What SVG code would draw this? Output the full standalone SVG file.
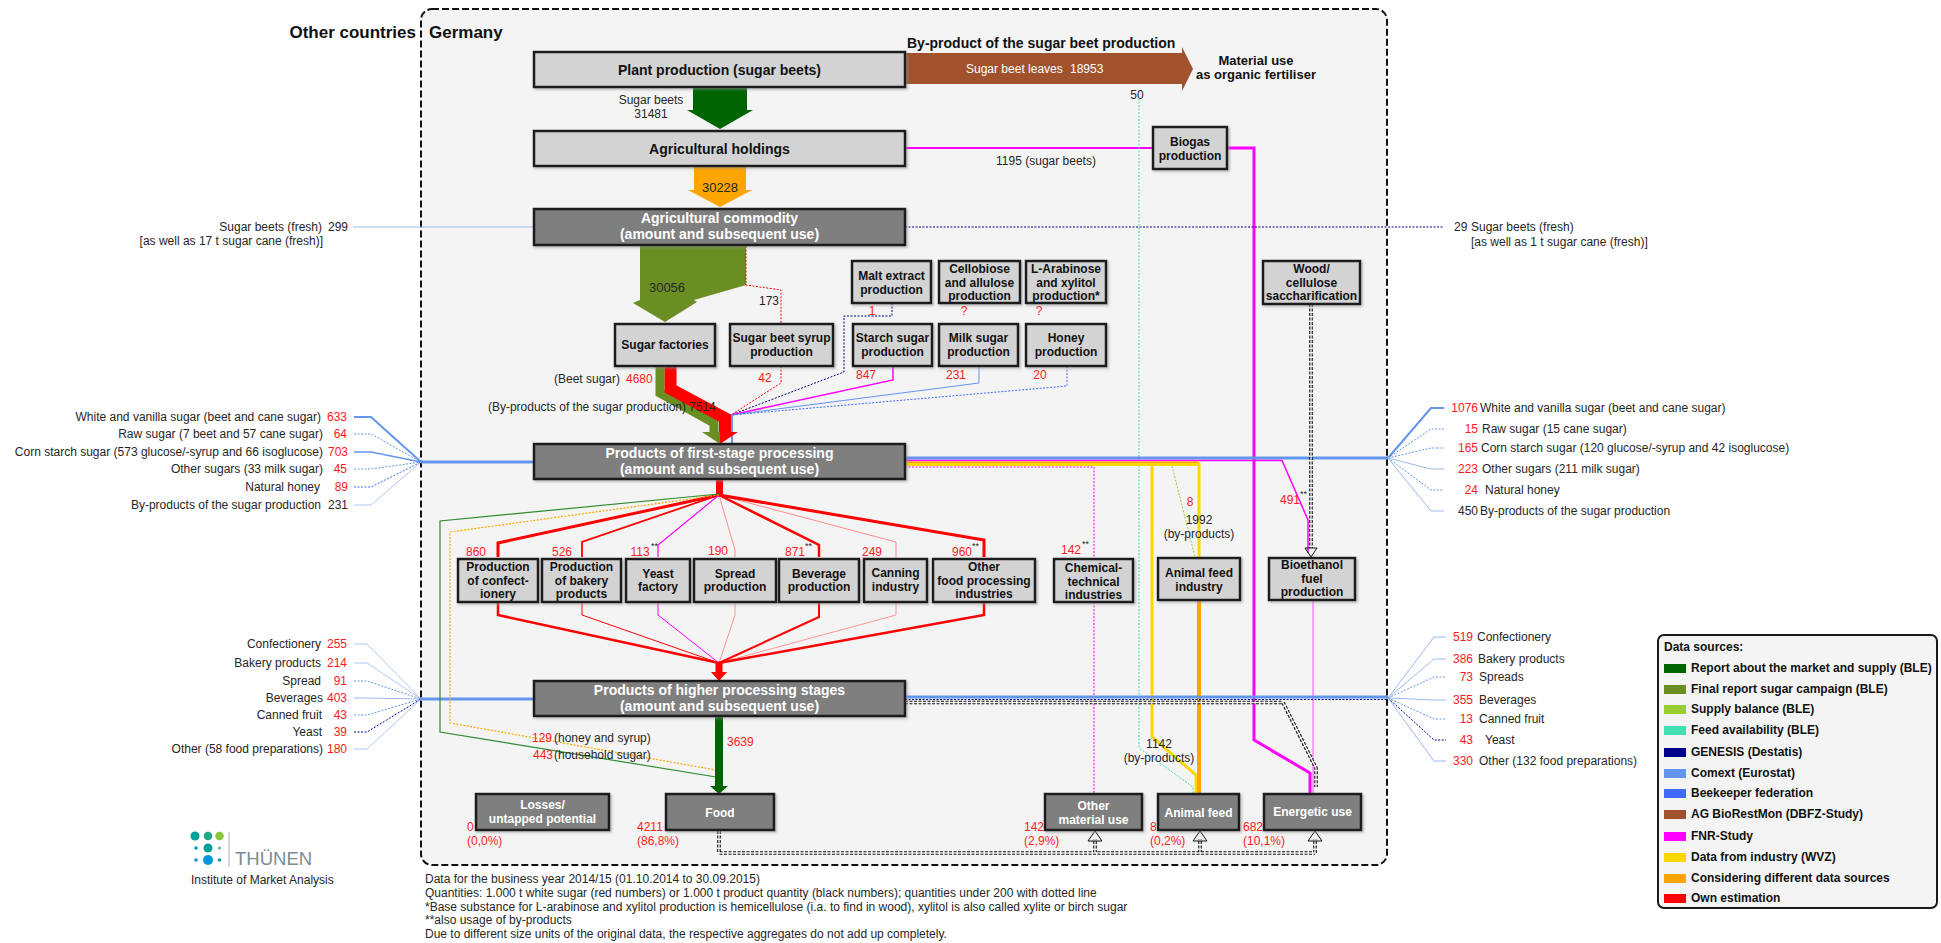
<svg xmlns="http://www.w3.org/2000/svg" width="1941" height="943" viewBox="0 0 1941 943">
<style>
text{font-family:"Liberation Sans",Arial,Helvetica,sans-serif;font-size:12px;fill:#262626}
.b{font-weight:bold;fill:#111}
.h{font-size:14px}
.hd{font-size:17px}
.r{fill:#ff1a1a}
.w{fill:#fff}
.m{text-anchor:middle}
.e{text-anchor:end}
.sup{font-size:9px}
.nl{fill:#d3d3d3;stroke:#1a1a1a;stroke-width:2.5;filter:url(#sh)}
.nd{fill:#7f7f7f;stroke:#1a1a1a;stroke-width:2.5;filter:url(#sh)}
path,polyline,line{fill:none}
.dt{stroke-dasharray:2,1.5}
.cb{stroke:#6495ed}
.cbl{stroke:#9db8f2}
.nv{stroke:#00008b}
.rb{stroke:#4169ff}
.rd{stroke:#ff0000}
.lr{stroke:#ff8080}
.mg{stroke:#ff00ff}
.gd{stroke:#ffd700}
.or{stroke:#ffa500}
.lg{stroke:#9acd32}
.cy{stroke:#40e0b0}
.dbo{stroke:#111;stroke-width:3.6;stroke-dasharray:3,1.5}
.dbi{stroke:#f4f4f4;stroke-width:1.4}
</style>
<defs>
<filter id="sh" x="-10%" y="-10%" width="125%" height="130%"><feDropShadow dx="1.5" dy="1.5" stdDeviation="0.8" flood-color="#888" flood-opacity="0.6"/></filter>
<marker id="aR" viewBox="0 0 10 10" refX="10" refY="5" markerWidth="7" markerHeight="11" markerUnits="userSpaceOnUse" orient="auto" preserveAspectRatio="none"><path d="M0,0L10,5L0,10z" fill="#ff0000"/></marker>
<marker id="aM" viewBox="0 0 10 10" refX="10" refY="5" markerWidth="7" markerHeight="10" markerUnits="userSpaceOnUse" orient="auto" preserveAspectRatio="none"><path d="M0,0L10,5L0,10z" fill="#ff00ff"/></marker>
<marker id="aB" viewBox="0 0 10 10" refX="10" refY="5" markerWidth="6" markerHeight="10" markerUnits="userSpaceOnUse" orient="auto" preserveAspectRatio="none"><path d="M0,0L10,5L0,10z" fill="#6495ed"/></marker>
<marker id="aBs" viewBox="0 0 10 10" refX="10" refY="5" markerWidth="4" markerHeight="9" markerUnits="userSpaceOnUse" orient="auto" preserveAspectRatio="none"><path d="M0,0L10,5L0,10z" fill="#6495ed"/></marker>
<marker id="aN" viewBox="0 0 10 10" refX="10" refY="5" markerWidth="5" markerHeight="9" markerUnits="userSpaceOnUse" orient="auto" preserveAspectRatio="none"><path d="M0,0L10,5L0,10z" fill="#00008b"/></marker>
<marker id="aG" viewBox="0 0 10 10" refX="10" refY="5" markerWidth="7" markerHeight="11" markerUnits="userSpaceOnUse" orient="auto" preserveAspectRatio="none"><path d="M0,0L10,5L0,10z" fill="#ffd700"/></marker>
<marker id="aO" viewBox="0 0 10 10" refX="10" refY="5" markerWidth="7" markerHeight="12" markerUnits="userSpaceOnUse" orient="auto" preserveAspectRatio="none"><path d="M0,0L10,5L0,10z" fill="#ffa500"/></marker>
<marker id="aL" viewBox="0 0 10 10" refX="10" refY="5" markerWidth="7" markerHeight="10" markerUnits="userSpaceOnUse" orient="auto" preserveAspectRatio="none"><path d="M0,0L10,5L0,10z" fill="#9acd32"/></marker>
<marker id="aC" viewBox="0 0 10 10" refX="10" refY="5" markerWidth="7" markerHeight="10" markerUnits="userSpaceOnUse" orient="auto" preserveAspectRatio="none"><path d="M0,0L10,5L0,10z" fill="#40e0b0"/></marker>
</defs>

<rect width="1941" height="943" fill="#fff"/>

<g id="frame">
<rect x="421" y="9" width="966" height="856" rx="11" fill="#f4f4f4" stroke="#111" stroke-width="2" stroke-dasharray="7,3"/>
<text x="416" y="38" class="b hd e">Other countries</text>
<text x="429" y="38" class="b hd">Germany</text>
</g>

<g id="connectors">
<polygon points="693,87 747,87 747,110 753,110 720,129 687,110 693,110" fill="#006400"/>
<polygon points="694,166 746,166 746,190 752,190 720,207 688,190 694,190" fill="#ffa500"/>
<polygon points="640,245 746,245 746,285 694,300 697,302 665,322 633,303 640,300" fill="#6b8e23"/>
<polygon points="905,53 1182,53 1182,47 1193,69 1182,91 1182,84 905,84" fill="#a0522d"/>
<path class="rd dt" stroke-width="1" d="M746,246V285L781,290V323" marker-end="url(#aR)"/>
<path class="rd dt" stroke-width="1" d="M781,366V383L731,415"/>
<path class="nv dt" stroke-width="1" d="M892,303V316H844V372L731,415"/>
<path class="mg" stroke-width="1.5" d="M893,366V380L731,415"/>
<path class="cb" stroke-width="1" d="M979,366V383L731,415"/>
<path class="rb dt" stroke-width="1" d="M1067,366V386L731,415"/>
<path class="cb" stroke-width="2" d="M732,415V443" marker-end="url(#aB)"/>
<polyline points="660,366 660,393 714,423 714,433" stroke="#6b8e23" stroke-width="9" stroke-linejoin="miter"/>
<polyline points="670.5,366 670.5,389 725,418 725,433" stroke="#ff0000" stroke-width="12" stroke-linejoin="miter"/>
<polygon points="702,432 720,432 720,444" fill="#6b8e23"/>
<polygon points="720,432 738,432 720,444" fill="#ff0000"/>
<path class="mg" stroke-width="2" d="M905,148H1153" marker-end="url(#aM)"/>
<path class="mg" stroke-width="3" d="M1227,148H1254V740L1310,773V794" marker-end="url(#aM)"/>
<path class="cy dt" stroke-width="1" d="M1139,98V748L1193,787V794" marker-end="url(#aC)"/>
<path class="cbl" stroke-width="1" d="M353,227H534" marker-end="url(#aN)"/>
<path class="nv dt" stroke-width="1" d="M905,227H1444" marker-end="url(#aN)"/>
<path class="cb" stroke-width="2" d="M354,417H371L421,462"/>
<path class="cb dt" stroke-width="1" d="M354,434H371L421,462"/>
<path class="cb" stroke-width="1.4" d="M354,452H371L421,462"/>
<path class="cb dt" stroke-width="1" d="M354,469H371L421,462"/>
<path class="rb dt" stroke-width="1" d="M354,487H371L421,462"/>
<path class="cbl" stroke-width="0.8" d="M354,505H371L421,462"/>
<path class="cb" stroke-width="3" d="M421,462H534" marker-end="url(#aB)"/>
<path class="cbl" stroke-width="0.8" d="M354,644H367L421,699"/>
<path class="cbl" stroke-width="0.8" d="M354,663H367L421,699"/>
<path class="cb dt" stroke-width="1" d="M354,681H367L421,699"/>
<path class="cbl" stroke-width="1" d="M354,698H367L421,699"/>
<path class="cb dt" stroke-width="1" d="M354,715H367L421,699"/>
<path class="nv dt" stroke-width="1" d="M354,732H367L421,699"/>
<path class="cbl" stroke-width="0.8" d="M354,749H367L421,699"/>
<path class="cb" stroke-width="3" d="M421,699H534" marker-end="url(#aB)"/>
<path class="cb" stroke-width="3" d="M905,458H1388"/>
<path class="cb" stroke-width="2" d="M1388,458L1431,408H1444" marker-end="url(#aBs)"/>
<path class="cb dt" stroke-width="1" d="M1388,458L1431,429H1444" marker-end="url(#aBs)"/>
<path class="cb dt" stroke-width="1" d="M1388,458L1431,448H1444" marker-end="url(#aBs)"/>
<path class="cbl" stroke-width="1" d="M1388,458L1431,469H1444" marker-end="url(#aBs)"/>
<path class="cb dt" stroke-width="1" d="M1388,458L1431,490H1444" marker-end="url(#aBs)"/>
<path class="cbl" stroke-width="1" d="M1388,458L1431,511H1444" marker-end="url(#aBs)"/>
<path class="mg" stroke-width="1.5" d="M905,460.5H1282L1308,520V553" marker-end="url(#aM)"/>
<path class="or" stroke-width="2" d="M905,462.5H1199"/>
<path class="gd" stroke-width="3" d="M905,464.5H1199V557" marker-end="url(#aG)"/>
<path class="gd" stroke-width="3" d="M1152,465V737L1196,775V794" marker-end="url(#aG)"/>
<path class="lg dt" stroke-width="1" d="M1172,466L1195,557" marker-end="url(#aL)"/>
<path class="mg dt" stroke-width="1" d="M905,467H1094V558" marker-end="url(#aM)"/>
<path class="mg dt" stroke-width="1" d="M1094,602V794" marker-end="url(#aM)"/>
<path class="or" stroke-width="4" d="M1199,600V794" marker-end="url(#aO)"/>
<path stroke="#ff66ff" stroke-width="1.2" d="M1313,600V794" marker-end="url(#aM)"/>
<path class="dbo" d="M1311,304V548"/>
<path class="dbi" d="M1311,304V548"/>
<path d="M1305,548L1311,557L1317,548Z" fill="#fff" stroke="#111" stroke-width="1"/>
<rect x="716" y="479" width="7" height="16" fill="#ff0000"/>
<path class="rd" stroke-width="3" d="M719,495L498,543V557" marker-end="url(#aR)"/>
<path class="rd" stroke-width="1.8" d="M719,495L582,542V557" marker-end="url(#aR)"/>
<path class="mg" stroke-width="1.2" d="M719,495L658,545V557" marker-end="url(#aM)"/>
<path class="lr" stroke-width="0.9" d="M719,495L735,550V557" marker-end="url(#aR)"/>
<path class="rd" stroke-width="2.5" d="M719,495L819,545V557" marker-end="url(#aR)"/>
<path class="lr" stroke-width="0.9" d="M719,495L896,542V557" marker-end="url(#aR)"/>
<path class="rd" stroke-width="3" d="M719,495L984,540V557" marker-end="url(#aR)"/>
<path stroke="#2e8b2e" stroke-width="1.2" d="M719,494L440,521V732L716,777"/>
<path class="or dt" stroke-width="1.2" d="M719,495L450,532V723L716,770"/>
<path class="rd" stroke-width="2.5" d="M498,602V615L719,663"/>
<path class="rd" stroke-width="1" d="M582,602V615L719,663"/>
<path class="mg" stroke-width="1" d="M658,602V615L719,663"/>
<path class="lr" stroke-width="0.8" d="M735,602V615L719,663"/>
<path class="rd" stroke-width="2" d="M819,602V617L719,663"/>
<path class="lr" stroke-width="0.8" d="M896,602V615L719,663"/>
<path class="rd" stroke-width="2.5" d="M984,602V615L719,663"/>
<rect x="715.5" y="662" width="7" height="11" fill="#ff0000"/>
<polygon points="711,672 727,672 719,681" fill="#ff0000"/>
<path class="cb" stroke-width="3" d="M905,697H1388"/>
<path class="nv dt" stroke-width="1" d="M905,699.5H1388"/>
<path class="cbl" stroke-width="1" d="M1388,698L1434,637H1446" marker-end="url(#aBs)"/>
<path class="cbl" stroke-width="1" d="M1388,698L1434,659H1446" marker-end="url(#aBs)"/>
<path class="cb dt" stroke-width="1" d="M1388,698L1434,677H1446" marker-end="url(#aBs)"/>
<path class="cbl" stroke-width="1.2" d="M1388,698L1434,700H1446" marker-end="url(#aBs)"/>
<path class="cb dt" stroke-width="1" d="M1388,698L1434,719H1446" marker-end="url(#aBs)"/>
<path class="nv dt" stroke-width="1" d="M1388,698L1434,740H1446" marker-end="url(#aN)"/>
<path class="cbl" stroke-width="1" d="M1388,698L1434,761H1446" marker-end="url(#aBs)"/>
<path class="dbo" d="M905,702.5H1283L1316,768V787"/>
<path class="dbi" d="M905,702.5H1283L1316,768V787"/>
<rect x="715" y="716" width="8" height="71" fill="#006400"/>
<polygon points="710,786 728,786 719,794" fill="#006400"/>
<path class="dbo" d="M719,831V853H1315M1095,853V839M1200,853V839M1315,853V839"/>
<path class="dbi" d="M719,831V853H1315M1095,853V839M1200,853V839M1315,853V839"/>
<path d="M1088,841L1095,831L1102,841Z M1193,841L1200,831L1207,841Z M1308,841L1315,831L1322,841Z" fill="#fff" stroke="#111" stroke-width="1"/>
</g>

<g id="labels">
<text x="651" y="104" class="m">Sugar beets</text>
<text x="651" y="118" class="m">31481</text>
<text x="720" y="192" class="m" style="font-size:13px">30228</text>
<text x="667" y="292" class="m" style="font-size:13px">30056</text>
<text x="769" y="305" class="m">173</text>
<text x="966" y="73" class="w">Sugar beet leaves</text>
<text x="1070" y="73" class="w">18953</text>
<text x="907" y="48" class="b h">By-product of the sugar beet production</text>
<text x="1256" y="65" class="b m" style="font-size:13px">Material use</text>
<text x="1256" y="79" class="b m" style="font-size:13px">as organic fertiliser</text>
<text x="1137" y="99" class="m">50</text>
<text x="1046" y="165" class="m">1195 (sugar beets)</text>
<text x="322" y="231" class="e">Sugar beets (fresh)</text><text x="348" y="231" class="e">299</text>
<text x="323" y="245" class="e">[as well as 17 t sugar cane (fresh)]</text>
<text x="1454" y="231">29</text><text x="1471" y="231">Sugar beets (fresh)</text>
<text x="1471" y="246">[as well as 1 t sugar cane (fresh)]</text>
<text x="872" y="315" class="r m">1</text>
<text x="964" y="315" class="r m">?</text>
<text x="1039" y="315" class="r m">?</text>
<text x="620" y="383" class="e">(Beet sugar)</text>
<text x="626" y="383" class="r">4680</text>
<text x="686" y="411" class="e">(By-products of the sugar production)</text>
<text x="689" y="411">7514</text>
<text x="765" y="382" class="r m">42</text>
<text x="866" y="379" class="r m">847</text>
<text x="956" y="379" class="r m">231</text>
<text x="1040" y="379" class="r m">20</text>
<text x="321" y="421" class="e">White and vanilla sugar (beet and cane sugar)</text><text x="347" y="421" class="r e">633</text>
<text x="323" y="438" class="e">Raw sugar (7 beet and 57 cane sugar)</text><text x="347" y="438" class="r e">64</text>
<text x="323" y="456" class="e">Corn starch sugar (573 glucose/-syrup and 66 isoglucose)</text><text x="348" y="456" class="r e">703</text>
<text x="323" y="473" class="e">Other sugars (33 milk sugar)</text><text x="347" y="473" class="r e">45</text>
<text x="320" y="491" class="e">Natural honey</text><text x="348" y="491" class="r e">89</text>
<text x="321" y="509" class="e">By-products of the sugar production</text><text x="348" y="509" class="e">231</text>
<text x="1478" y="412" class="r e">1076</text><text x="1480" y="412">White and vanilla sugar (beet and cane sugar)</text>
<text x="1478" y="433" class="r e">15</text><text x="1482" y="433">Raw sugar (15 cane sugar)</text>
<text x="1478" y="452" class="r e">165</text><text x="1481" y="452">Corn starch sugar (120 glucose/-syrup and 42 isoglucose)</text>
<text x="1478" y="473" class="r e">223</text><text x="1482" y="473">Other sugars (211 milk sugar)</text>
<text x="1478" y="494" class="r e">24</text><text x="1485" y="494">Natural honey</text>
<text x="1478" y="515" class="e">450</text><text x="1480" y="515">By-products of the sugar production</text>
<text x="476" y="556" class="r m">860</text>
<text x="562" y="556" class="r m">526</text>
<text x="640" y="556" class="r m">113</text><text x="651" y="549" class="sup">**</text>
<text x="718" y="555" class="r m">190</text>
<text x="795" y="556" class="r m">871</text><text x="805" y="549" class="sup">**</text>
<text x="872" y="556" class="r m">249</text>
<text x="962" y="556" class="r m">960</text><text x="972" y="549" class="sup">**</text>
<text x="1071" y="554" class="r m">142</text><text x="1082" y="547" class="sup">**</text>
<text x="1190" y="506" class="r m">8</text>
<text x="1199" y="524" class="m">1992</text>
<text x="1199" y="538" class="m">(by-products)</text>
<text x="1290" y="504" class="r m">491</text><text x="1300" y="497" class="sup">**</text>
<text x="321" y="648" class="e">Confectionery</text><text x="347" y="648" class="r e">255</text>
<text x="321" y="667" class="e">Bakery products</text><text x="347" y="667" class="r e">214</text>
<text x="321" y="685" class="e">Spread</text><text x="347" y="685" class="r e">91</text>
<text x="323" y="702" class="e">Beverages</text><text x="347" y="702" class="r e">403</text>
<text x="322" y="719" class="e">Canned fruit</text><text x="347" y="719" class="r e">43</text>
<text x="322" y="736" class="e">Yeast</text><text x="347" y="736" class="r e">39</text>
<text x="323" y="753" class="e">Other (58 food preparations)</text><text x="347" y="753" class="r e">180</text>
<text x="1473" y="641" class="r e">519</text><text x="1477" y="641">Confectionery</text>
<text x="1473" y="663" class="r e">386</text><text x="1478" y="663">Bakery products</text>
<text x="1473" y="681" class="r e">73</text><text x="1479" y="681">Spreads</text>
<text x="1473" y="704" class="r e">355</text><text x="1479" y="704">Beverages</text>
<text x="1473" y="723" class="r e">13</text><text x="1479" y="723">Canned fruit</text>
<text x="1473" y="744" class="r e">43</text><text x="1485" y="744">Yeast</text>
<text x="1473" y="765" class="r e">330</text><text x="1479" y="765">Other (132 food preparations)</text>
<text x="532" y="742" class="r">129</text><text x="554" y="742">(honey and syrup)</text>
<text x="533" y="759" class="r">443</text><text x="554" y="759">(household sugar)</text>
<text x="727" y="746" class="r">3639</text>
<text x="1159" y="748" class="m">1142</text>
<text x="1159" y="762" class="m">(by-products)</text>
<text x="467" y="831" class="r">0</text><text x="467" y="845" class="r">(0,0%)</text>
<text x="637" y="831" class="r">4211</text><text x="637" y="845" class="r">(86,8%)</text>
<text x="1024" y="831" class="r">142</text><text x="1024" y="845" class="r">(2,9%)</text>
<text x="1150" y="831" class="r">8</text><text x="1150" y="845" class="r">(0,2%)</text>
<text x="1243" y="831" class="r">682</text><text x="1243" y="845" class="r">(10,1%)</text>
</g>

<g id="n-plant"><rect x="534" y="52" width="371" height="35" class="nl"/><text x="719.5" y="74.5" class="b h m">Plant production (sugar beets)</text></g>
<g id="n-holdings"><rect x="534" y="131" width="371" height="35" class="nl"/><text x="719.5" y="153.5" class="b h m">Agricultural holdings</text></g>
<g id="n-commodity"><rect x="534" y="209" width="371" height="36" class="nd"/><text x="719.5" y="223" class="b h m w">Agricultural commodity</text><text x="719.5" y="239" class="b h m w">(amount and subsequent use)</text></g>
<g id="n-biogas"><rect x="1153" y="127" width="74" height="42" class="nl"/><text x="1190" y="146" class="b m">Biogas</text><text x="1190" y="160" class="b m">production</text></g>
<g id="n-sugarfactories"><rect x="615" y="324" width="100" height="42" class="nl"/><text x="665" y="349" class="b m">Sugar factories</text></g>
<g id="n-syrup"><rect x="730" y="324" width="103" height="42" class="nl"/><text x="781.5" y="342" class="b m">Sugar beet syrup</text><text x="781.5" y="356" class="b m">production</text></g>
<g id="n-malt"><rect x="852" y="261" width="79" height="42" class="nl"/><text x="891.5" y="280" class="b m">Malt extract</text><text x="891.5" y="294" class="b m">production</text></g>
<g id="n-cellobiose"><rect x="939" y="261" width="81" height="42" class="nl"/><text x="979.5" y="273" class="b m">Cellobiose</text><text x="979.5" y="287" class="b m">and allulose</text><text x="979.5" y="300" class="b m">production</text></g>
<g id="n-arabinose"><rect x="1026" y="261" width="80" height="42" class="nl"/><text x="1066" y="273" class="b m">L-Arabinose</text><text x="1066" y="287" class="b m">and xylitol</text><text x="1066" y="300" class="b m">production*</text></g>
<g id="n-starch"><rect x="853" y="324" width="79" height="42" class="nl"/><text x="892.5" y="342" class="b m">Starch sugar</text><text x="892.5" y="356" class="b m">production</text></g>
<g id="n-milk"><rect x="939" y="324" width="79" height="42" class="nl"/><text x="978.5" y="342" class="b m">Milk sugar</text><text x="978.5" y="356" class="b m">production</text></g>
<g id="n-honey"><rect x="1026" y="324" width="80" height="42" class="nl"/><text x="1066" y="342" class="b m">Honey</text><text x="1066" y="356" class="b m">production</text></g>
<g id="n-wood"><rect x="1263" y="261" width="97" height="43" class="nl"/><text x="1311.5" y="273" class="b m">Wood/</text><text x="1311.5" y="287" class="b m">cellulose</text><text x="1311.5" y="300" class="b m">saccharification</text></g>
<g id="n-firststage"><rect x="534" y="444" width="371" height="35" class="nd"/><text x="719.5" y="458" class="b h m w">Products of first-stage processing</text><text x="719.5" y="474" class="b h m w">(amount and subsequent use)</text></g>
<g id="n-confectionery"><rect x="458" y="559" width="80" height="43" class="nl"/><text x="498" y="571" class="b m">Production</text><text x="498" y="585" class="b m">of confect-</text><text x="498" y="598" class="b m">ionery</text></g>
<g id="n-bakery"><rect x="542" y="559" width="79" height="43" class="nl"/><text x="581.5" y="571" class="b m">Production</text><text x="581.5" y="585" class="b m">of bakery</text><text x="581.5" y="598" class="b m">products</text></g>
<g id="n-yeast"><rect x="626" y="559" width="64" height="43" class="nl"/><text x="658" y="578" class="b m">Yeast</text><text x="658" y="591" class="b m">factory</text></g>
<g id="n-spread"><rect x="694" y="559" width="82" height="43" class="nl"/><text x="735" y="578" class="b m">Spread</text><text x="735" y="591" class="b m">production</text></g>
<g id="n-beverage"><rect x="779" y="559" width="80" height="43" class="nl"/><text x="819" y="578" class="b m">Beverage</text><text x="819" y="591" class="b m">production</text></g>
<g id="n-canning"><rect x="864" y="559" width="63" height="43" class="nl"/><text x="895.5" y="577" class="b m">Canning</text><text x="895.5" y="591" class="b m">industry</text></g>
<g id="n-otherfood"><rect x="933" y="559" width="102" height="43" class="nl"/><text x="984" y="571" class="b m">Other</text><text x="984" y="585" class="b m">food processing</text><text x="984" y="598" class="b m">industries</text></g>
<g id="n-chemical"><rect x="1054" y="559" width="79" height="43" class="nl"/><text x="1093.5" y="572" class="b m">Chemical-</text><text x="1093.5" y="586" class="b m">technical</text><text x="1093.5" y="599" class="b m">industries</text></g>
<g id="n-feedindustry"><rect x="1158" y="558" width="82" height="42" class="nl"/><text x="1199" y="577" class="b m">Animal feed</text><text x="1199" y="591" class="b m">industry</text></g>
<g id="n-bioethanol"><rect x="1269" y="558" width="86" height="42" class="nl"/><text x="1312" y="569" class="b m">Bioethanol</text><text x="1312" y="583" class="b m">fuel</text><text x="1312" y="596" class="b m">production</text></g>
<g id="n-higher"><rect x="534" y="681" width="371" height="35" class="nd"/><text x="719.5" y="695" class="b h m w">Products of higher processing stages</text><text x="719.5" y="711" class="b h m w">(amount and subsequent use)</text></g>
<g id="n-losses"><rect x="476" y="794" width="133" height="36" class="nd"/><text x="542.5" y="809" class="b m w">Losses/</text><text x="542.5" y="823" class="b m w">untapped potential</text></g>
<g id="n-food"><rect x="666" y="794" width="108" height="36" class="nd"/><text x="720" y="817" class="b m w">Food</text></g>
<g id="n-othermaterial"><rect x="1045" y="794" width="97" height="36" class="nd"/><text x="1093.5" y="810" class="b m w">Other</text><text x="1093.5" y="824" class="b m w">material use</text></g>
<g id="n-animalfeed"><rect x="1158" y="794" width="81" height="36" class="nd"/><text x="1198.5" y="817" class="b m w">Animal feed</text></g>
<g id="n-energetic"><rect x="1264" y="794" width="97" height="36" class="nd"/><text x="1312.5" y="816" class="b m w">Energetic use</text></g>

<g id="notes">
<text x="425" y="883">Data for the business year 2014/15 (01.10.2014 to 30.09.2015)</text>
<text x="425" y="897">Quantities: 1.000 t white sugar (red numbers) or 1.000 t product quantity (black numbers); quantities under 200 with dotted line</text>
<text x="425" y="911">*Base substance for L-arabinose and xylitol production is hemicellulose (i.a. to find in wood), xylitol is also called xylite or birch sugar</text>
<text x="425" y="924">**also usage of by-products</text>
<text x="425" y="938">Due to different size units of the original data, the respective aggregates do not add up completely.</text>
</g>

<g id="logo">
<circle cx="195" cy="836" r="4.5" fill="#00a19a"/>
<circle cx="208" cy="836" r="4.3" fill="#1fa882"/>
<circle cx="219.5" cy="836" r="4.3" fill="#8cc63f"/>
<circle cx="196" cy="848" r="1.8" fill="#0096d6"/>
<circle cx="208" cy="848" r="4.5" fill="#00a19a"/>
<circle cx="219.5" cy="848" r="1.5" fill="#4fb98a"/>
<circle cx="196" cy="860" r="1.8" fill="#0096d6"/>
<circle cx="208" cy="860" r="5" fill="#0096e0"/>
<circle cx="219.5" cy="860" r="1.8" fill="#00a19a"/>
<line x1="229" y1="832" x2="229" y2="867" stroke="#b0b0b0" stroke-width="1"/>
<text x="235" y="865" style="font-size:18.5px;fill:#7d8c92">THÜNEN</text>
<text x="191" y="884">Institute of Market Analysis</text>
</g>

<g id="legend">
<rect x="1658" y="635" width="279" height="273" rx="6" fill="#f4f4f4" stroke="#1a1a1a" stroke-width="2"/>
<text x="1664" y="651" class="b">Data sources:</text>
<rect x="1664" y="664" width="22" height="9" fill="#006400"/><text x="1691" y="672" class="b">Report about the market and supply (BLE)</text>
<rect x="1664" y="685" width="22" height="9" fill="#6b8e23"/><text x="1691" y="693" class="b">Final report sugar campaign (BLE)</text>
<rect x="1664" y="705" width="22" height="9" fill="#9acd32"/><text x="1691" y="713" class="b">Supply balance (BLE)</text>
<rect x="1664" y="726" width="22" height="9" fill="#40e0b0"/><text x="1691" y="734" class="b">Feed availability (BLE)</text>
<rect x="1664" y="748" width="22" height="9" fill="#00008b"/><text x="1691" y="756" class="b">GENESIS (Destatis)</text>
<rect x="1664" y="769" width="22" height="9" fill="#6495ed"/><text x="1691" y="777" class="b">Comext (Eurostat)</text>
<rect x="1664" y="789" width="22" height="9" fill="#4169ff"/><text x="1691" y="797" class="b">Beekeeper federation</text>
<rect x="1664" y="810" width="22" height="9" fill="#a0522d"/><text x="1691" y="818" class="b">AG BioRestMon (DBFZ-Study)</text>
<rect x="1664" y="832" width="22" height="9" fill="#ff00ff"/><text x="1691" y="840" class="b">FNR-Study</text>
<rect x="1664" y="853" width="22" height="9" fill="#ffd700"/><text x="1691" y="861" class="b">Data from industry (WVZ)</text>
<rect x="1664" y="874" width="22" height="9" fill="#ffa500"/><text x="1691" y="882" class="b">Considering different data sources</text>
<rect x="1664" y="894" width="22" height="9" fill="#ff0000"/><text x="1691" y="902" class="b">Own estimation</text>
</g>
</svg>
